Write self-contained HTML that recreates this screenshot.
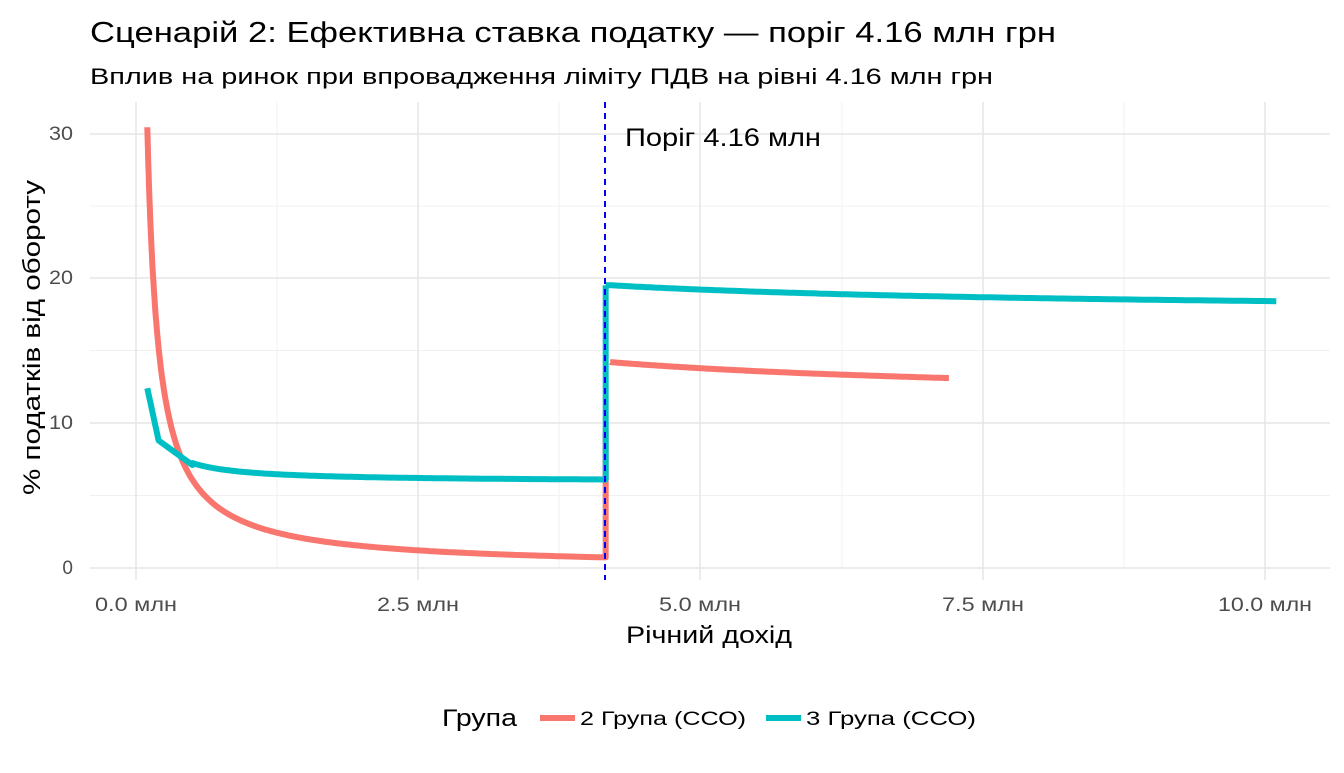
<!DOCTYPE html>
<html><head><meta charset="utf-8"><style>
body{margin:0;background:#fff;}
svg text{font-family:"Liberation Sans",sans-serif;}
</style></head><body>
<svg id="s" width="1344" height="768" xmlns="http://www.w3.org/2000/svg">
<rect width="1344" height="768" fill="#fff"/>
<g stroke="#f0f0f0" stroke-width="1">
<line x1="90" x2="1330" y1="495.5" y2="495.5"/><line x1="90" x2="1330" y1="350.5" y2="350.5"/><line x1="90" x2="1330" y1="206" y2="206"/>
<line x1="277" x2="277" y1="102" y2="568"/><line x1="559" x2="559" y1="102" y2="568"/><line x1="842" x2="842" y1="102" y2="568"/><line x1="1124" x2="1124" y1="102" y2="568"/>
</g>
<g stroke="#e6e6e6" stroke-width="1.5">
<line x1="90" x2="1330" y1="568" y2="568"/><line x1="90" x2="1330" y1="423" y2="423"/><line x1="90" x2="1330" y1="278" y2="278"/><line x1="90" x2="1330" y1="134" y2="134"/>
<line x1="136" x2="136" y1="102" y2="580"/><line x1="418" x2="418" y1="102" y2="580"/><line x1="700" x2="700" y1="102" y2="580"/><line x1="983" x2="983" y1="102" y2="580"/><line x1="1265" x2="1265" y1="102" y2="580"/>
</g>
<g id="series" fill="none" stroke-width="6" stroke-linejoin="round"></g>
<line x1="605" x2="605" y1="102" y2="580" stroke="#0000ff" stroke-width="2" stroke-dasharray="6,5"/>
<text x="625" y="146" font-size="25" fill="#000" textLength="196" lengthAdjust="spacingAndGlyphs">Поріг 4.16 млн</text>
<g font-size="19" fill="#4d4d4d">
<text x="73" y="574" text-anchor="end">0</text><text x="73" y="429" text-anchor="end" textLength="24" lengthAdjust="spacingAndGlyphs">10</text><text x="73" y="284" text-anchor="end" textLength="24" lengthAdjust="spacingAndGlyphs">20</text><text x="73" y="140" text-anchor="end" textLength="24" lengthAdjust="spacingAndGlyphs">30</text>
<text x="95" y="611" textLength="82" lengthAdjust="spacingAndGlyphs">0.0 млн</text><text x="377" y="611" textLength="82" lengthAdjust="spacingAndGlyphs">2.5 млн</text><text x="659" y="611" textLength="82" lengthAdjust="spacingAndGlyphs">5.0 млн</text><text x="942" y="611" textLength="82" lengthAdjust="spacingAndGlyphs">7.5 млн</text><text x="1218" y="611" textLength="94" lengthAdjust="spacingAndGlyphs">10.0 млн</text>
</g>
<text x="626" y="643" font-size="24" textLength="166" lengthAdjust="spacingAndGlyphs">Річний дохід</text>
<text transform="translate(40,495) rotate(-90)" font-size="24" textLength="315" lengthAdjust="spacingAndGlyphs">% податків від обороту</text>
<text x="90" y="42" font-size="29" textLength="966" lengthAdjust="spacingAndGlyphs">Сценарій 2:  Ефективна ставка податку — поріг 4.16 млн грн</text>
<text x="90" y="84" font-size="22" textLength="903" lengthAdjust="spacingAndGlyphs">Вплив на ринок при впровадження ліміту ПДВ на рівні 4.16 млн грн</text>
<text x="442" y="726" font-size="24" textLength="75" lengthAdjust="spacingAndGlyphs">Група</text>
<line x1="540" x2="575" y1="718" y2="718" stroke="#F8766D" stroke-width="6"/>
<text x="580" y="725" font-size="19" textLength="166" lengthAdjust="spacingAndGlyphs">2 Група (ССО)</text>
<line x1="766" x2="801" y1="718" y2="718" stroke="#00BFC4" stroke-width="6"/>
<text x="806" y="725" font-size="19" textLength="170" lengthAdjust="spacingAndGlyphs">3 Група (ССО)</text>
</svg>
<script>
function X(v){return 136+v*112.9;}function Y(v){return 568-v*14.5;}
function curve(a,b,x0,x1){var p=[];for(var i=0;i<=200;i++){var x=x0+(x1-x0)*Math.pow(i/200,2);p.push(X(x).toFixed(1)+","+Y(a+b/x).toFixed(1));}return p;}
var g=document.getElementById("series");
function add(pts,c){var e=document.createElementNS("http://www.w3.org/2000/svg","polyline");e.setAttribute("points",pts.join(" "));e.setAttribute("stroke",c);g.appendChild(e);}
var r1=curve(0,3.04,0.1,4.16);r1.push(X(4.16)+","+Y(0.73));r1.push(X(4.16)+","+Y(9.5));
add(r1,"#F8766D");
add(curve(11.56,11.09,4.2,7.2),"#F8766D");
var t1=[X(0.1)+","+Y(12.4),X(0.2)+","+Y(8.8)].concat(curve(5.95,0.645,0.5,4.16));
t1.unshift();t1.splice(2,0,X(0.5)+","+Y(7.1));
t1.push(X(4.16)+","+Y(19.5));
add(t1,"#00BFC4");
var t2=curve(17.62,7.91,4.2,10.1);t2.unshift(X(4.16)+","+Y(19.5));
add(t2,"#00BFC4");
</script>
</body></html>
